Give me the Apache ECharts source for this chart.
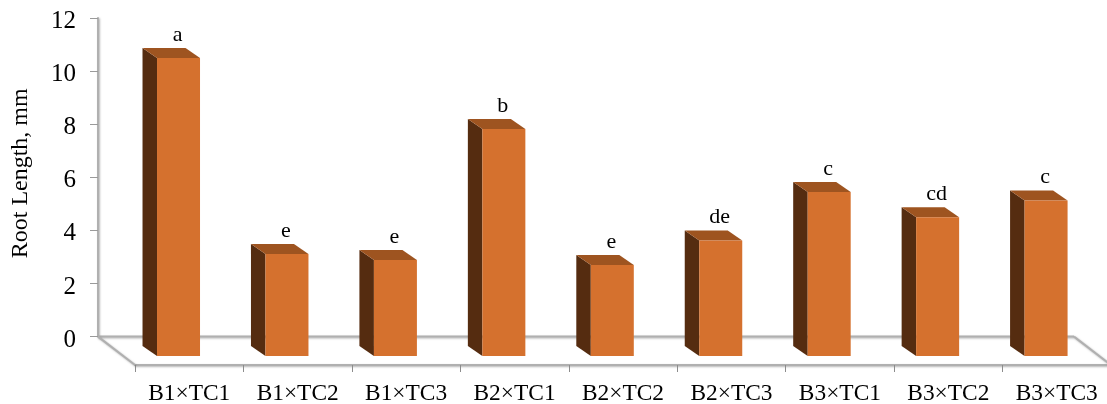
<!DOCTYPE html>
<html>
<head>
<meta charset="utf-8">
<title>Root Length</title>
<script src="https://cdn.jsdelivr.net/npm/echarts@6/dist/echarts.min.js"></script>
<style>
html, body { margin: 0; padding: 0; background: #fff; }
#chart { width: 1107px; height: 404px; overflow: hidden; filter: blur(0.45px); }
</style>
</head>
<body>
<div id="chart"></div>
<script>
const categories = ['B1×TC1', 'B1×TC2', 'B1×TC3', 'B2×TC1', 'B2×TC2', 'B2×TC3', 'B3×TC1', 'B3×TC2', 'B3×TC3'];
// read at the back edge of each bar's top, against the wall scale
const rootLength = [10.87, 3.49, 3.26, 8.2, 3.07, 4.0, 5.82, 4.87, 5.5];
const letters = ['a', 'e', 'e', 'b', 'e', 'de', 'c', 'cd', 'c'];
const yTicks = { min: 0, max: 12, interval: 2 };

const FONT = '"Liberation Serif", "Times New Roman", serif';
const AXIS_GREY = '#b0b0b0';
const FRONT = '#d5712e', TOP = '#9e5420', SIDE = '#552c10';
const SOFT = { shadowBlur: 2, shadowColor: 'rgba(120,120,120,.55)', shadowOffsetX: 1, shadowOffsetY: 1 };

// 3D look: pixel offsets from the wall plane
const DEPTH_X = 37, DEPTH_Y = 28.4;      // floor depth
const BAR_DX = 14.5, BAR_DY = 10;        // bar depth
const FRONT_SHIFT = 10.7, HALF_W = 21.5; // front face relative to band centre
const FOOT_Y = 19.5;                     // front bottom below y=0

const chart = echarts.init(document.getElementById('chart'));

function renderFloor(params, api) {
    const c = params.coordSys;
    const y0 = api.coord([0, 0])[1];
    const yF = y0 + DEPTH_Y;
    const right = c.x + c.width;
    const line = (x1, y1, x2, y2) => ({
        type: 'line',
        shape: { x1, y1, x2, y2 },
        style: Object.assign({ stroke: AXIS_GREY, lineWidth: 2 }, SOFT)
    });
    return {
        type: 'group',
        children: [
            line(c.x - DEPTH_X, y0, right - DEPTH_X, y0),
            line(c.x - DEPTH_X, y0, c.x, yF),
            line(right - DEPTH_X, y0, right, yF)
        ]
    };
}

function renderBar(params, api) {
    const p = api.coord([api.value(0), api.value(1)]);
    const yBase = api.coord([api.value(0), 0])[1] + FOOT_Y;
    const xL = p[0] - FRONT_SHIFT - HALF_W;
    const xR = xL + HALF_W * 2;
    const yBack = p[1];
    const yFront = yBack + BAR_DY;
    return {
        type: 'group',
        children: [
            { type: 'polygon', shape: { points: [[xL - BAR_DX, yBack], [xL, yFront], [xL, yBase], [xL - BAR_DX, yBase - BAR_DY]] }, style: { fill: SIDE } },
            { type: 'polygon', shape: { points: [[xL - BAR_DX, yBack], [xR - BAR_DX, yBack], [xR, yFront], [xL, yFront]] }, style: { fill: TOP } },
            { type: 'rect', shape: { x: xL, y: yFront, width: xR - xL, height: yBase - yFront }, style: { fill: FRONT } },
            {
                type: 'text',
                x: (xL + xR) / 2 - 1,
                y: yBack - 2,
                style: { text: letters[params.dataIndex], font: '22px ' + FONT, fill: '#000', align: 'center', verticalAlign: 'bottom' }
            }
        ]
    };
}

chart.setOption({
    animation: false,
    backgroundColor: '#fff',
    grid: { left: 135, top: 18, width: 976, height: 318.6, outerBoundsMode: 'none' },
    xAxis: {
        type: 'category',
        data: categories,
        offset: DEPTH_Y,
        axisLine: { onZero: false, lineStyle: Object.assign({ color: AXIS_GREY, width: 2 }, SOFT) },
        axisTick: { show: true, length: 7, alignWithLabel: false, lineStyle: { color: '#8c8c8c', width: 1 } },
        axisLabel: { interval: 0, fontFamily: FONT, fontSize: 23.4, color: '#000', margin: 17 }
    },
    yAxis: {
        type: 'value',
        min: yTicks.min,
        max: yTicks.max,
        interval: yTicks.interval,
        offset: DEPTH_X,
        name: 'Root Length, mm',
        nameLocation: 'middle',
        nameGap: 65,
        nameTextStyle: { fontFamily: FONT, fontSize: 24, color: '#000', padding: [0, 0, 0, 8] },
        splitLine: { show: false },
        axisLine: { show: true, onZero: false, lineStyle: Object.assign({ color: AXIS_GREY, width: 2 }, SOFT) },
        axisTick: { show: true, length: 8, lineStyle: { color: '#9a9a9a', width: 1 } },
        // top-aligned with a short line box: nudges digits down onto their ticks
        axisLabel: { fontFamily: FONT, fontSize: 25, color: '#000', margin: 22, verticalAlign: 'top', lineHeight: 7 }
    },
    series: [
        { type: 'custom', clip: false, silent: true, renderItem: renderFloor, data: [[0, 0]], z: 1 },
        {
            type: 'custom',
            clip: false,
            renderItem: renderBar,
            encode: { x: 0, y: 1 },
            data: rootLength.map((v, i) => [i, v]),
            z: 3
        }
    ]
});
</script>
</body>
</html>
